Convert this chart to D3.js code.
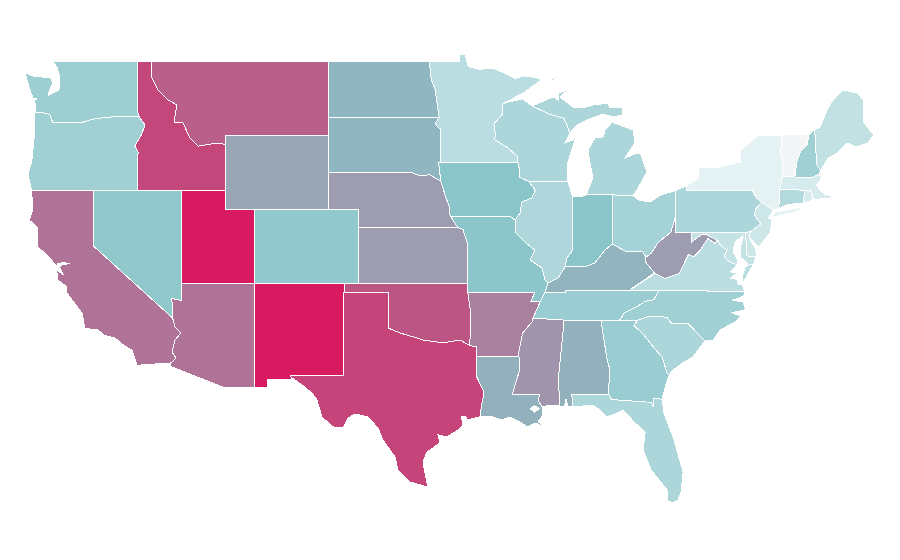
<!DOCTYPE html>
<html>
<head>
<meta charset="utf-8">
<script src="https://cdn.jsdelivr.net/npm/d3@7"></script>
<style>
  html, body { margin: 0; background: #fff; }
  path.state { stroke: #fff; stroke-width: 1px; fill-rule: evenodd; shape-rendering: crispEdges; }
</style>
</head>
<body>
<svg id="map" width="900" height="560"></svg>
<script>
// values, arbitrary 0-100 units
var stateNames = ["AL","AR","AZ","CA","CO","CT","DE","FL","GA","IA","ID","IL","IN","KS","KY","LA","MA","MD","ME","MI","MN","MO","MS","MT","NC","ND","NE","NH","NJ","NM","NV","NY","OH","OK","OR","PA","RI","SC","SD","TN","TX","UT","VA","VT","WA","WI","WV","WY"];
var stateValues = [56,70,74,74,46,30,17,33,42,50,87,32,50,62,55,56,13,21,23,33,27,49,64,80,39,54,62,39,17,100,47,6,37,83,39,33,13,33,54,42,88,100,27,0,41,33,62,59];
var colorStops = [0, 4, 50, 100];
var colorRange = ["#f4f5f6", "#e8f4f6", "#8ac5c9", "#d81b60"];

// shared borders as [lon, lat], so neighbours line up
var colRiverWaOr = [[-123.97,46.2],[-123.4,46.2],[-122.95,46.1],[-122.75,45.65],[-121.9,45.68],[-120.9,45.65],[-120,45.86],[-119,45.97],[-116.92,46.0]];
var waIdLine = [[-117.03,49],[-117.04,46.42],[-116.92,46.0]];
var orIdLine = [[-116.92,46.0],[-116.5,45.55],[-116.75,45.0],[-117.2,44.4],[-117.05,44.2],[-116.95,44.05],[-117.03,43.8],[-117.03,42]];
var idMtLine = [[-116.05,49],[-116.03,48.08],[-115.63,47.43],[-114.95,46.9],[-114.34,46.62],[-114.54,45.7],[-113.93,45.65],[-113.46,44.84],[-112.9,44.4],[-111.56,44.57],[-111.05,44.48]];
var colRiverCaAz = [[-114.63,35.1],[-114.47,34.62],[-114.07,34.3],[-114.47,33.92],[-114.68,33.27],[-114.4,32.95],[-114.75,32.68]];
var nvAzLine = [[-114.05,37],[-114.05,36.05],[-114.3,36.1],[-114.68,36.15],[-114.65,35.3],[-114.63,35.1]];
var redRiver = [[-100,34.56],[-99.22,34.3],[-98.07,34.03],[-97.66,33.92],[-96.3,33.76],[-95.15,33.92],[-94.48,33.62]];
var sabine = [[-94.04,31.97],[-93.52,31.1],[-93.7,30.3],[-93.8,29.76]];
var missouriNeSd = [[-98.5,43],[-97.9,42.8],[-97.2,42.85],[-96.45,42.5]];
var missouriNeIa = [[-96.45,42.5],[-96.1,41.6],[-95.9,41.2],[-95.85,40.7],[-95.77,40.58]];
var redRiverNorth = [[-97.23,49],[-97.1,48],[-96.85,47.5],[-96.56,45.94]];
var mnSdLine = [[-96.56,45.94],[-96.85,45.6],[-96.45,45.3],[-96.45,43.5]];
var mnWiLine = [[-92.1,46.75],[-92.3,46.65],[-92.3,46.1],[-92.85,45.6],[-92.75,45.0],[-92.8,44.75],[-91.9,44.3],[-91.25,43.85],[-91.22,43.5]];
var iaWiIl = [[-91.22,43.5],[-91.08,43.0],[-91.1,42.7],[-90.5,42.5]];
var iaIlLine = [[-90.5,42.5],[-90.05,42.03],[-90.27,41.6],[-90.95,41.38],[-91.08,40.78],[-91.42,40.4]];
var ilMoLine = [[-91.42,40.4],[-91.42,39.76],[-90.74,39.2],[-90.07,38.78],[-90.4,38.24],[-89.59,37.81],[-89.39,37.16],[-89.18,37.0]];
var wabash = [[-87.53,39.35],[-87.5,38.78],[-87.9,38.35],[-88.03,37.87]];
var ilKyLine = [[-88.03,37.87],[-88.5,37.27],[-89.18,37.0]];
var inKyLine = [[-88.03,37.87],[-87.49,37.87],[-86.68,37.87],[-86.0,38.08],[-85.32,38.79],[-84.82,39.1]];
var ohKyLine = [[-84.82,39.1],[-83.83,38.68],[-82.74,38.68],[-82.55,38.4]];
var ohWvLine = [[-82.55,38.4],[-82.2,38.6],[-81.7,39.2],[-80.85,39.75],[-80.52,40.64]];
var kyWvLine = [[-82.55,38.4],[-82.6,38.17],[-81.97,37.54]];
var kyVaLine = [[-81.97,37.54],[-82.07,37.43],[-83.68,36.6]];
var moKyTn = [[-89.18,37.0],[-89.38,36.51]];
var moArLine = [[-89.38,36.51],[-89.72,35.97],[-90.35,36.0],[-90.07,36.5]];
var arTnMs = [[-89.72,35.97],[-90.2,35.1]];
var arMsLine = [[-90.2,35.1],[-90.27,34.9],[-90.9,34.3],[-91.2,33.1],[-91.15,33.0]];
var laMsLine = [[-91.15,33.0],[-91.1,32.3],[-91.6,31.0],[-89.73,31.0],[-89.85,30.65],[-89.59,30.3]];
var msAlLine = [[-88.17,35],[-88.1,34.9],[-88.47,31.9],[-88.4,30.35]];
var alGaLine = [[-85.6,35],[-85.18,32.87],[-84.98,32.3],[-85.1,31.0]];
var gaFlLine = [[-85.1,31.0],[-84.86,30.7],[-82.2,30.55],[-82.05,30.36],[-82.0,30.75],[-81.45,30.72]];
var gaScLine = [[-83.1,35],[-83.35,34.7],[-82.75,34.25],[-81.9,33.4],[-81.45,33.0],[-81.1,32.1],[-80.95,32.05]];
var ncScLine = [[-83.1,35],[-82.3,35.2],[-81.05,35.15],[-81.05,35.05],[-80.8,34.82],[-79.67,34.8],[-78.55,33.86]];
var ncTnLine = [[-84.32,35],[-84.0,35.4],[-83.1,35.75],[-82.6,36.0],[-82.0,36.1],[-81.68,36.59]];
var wvVaLine = [[-81.97,37.54],[-81.25,37.25],[-80.3,37.5],[-79.65,38.55],[-79.3,38.42],[-78.87,38.77],[-78.35,39.4],[-77.83,39.13],[-77.72,39.32]];
var mdVaLine = [[-77.72,39.32],[-77.45,39.0],[-77.05,38.8],[-77.25,38.4],[-76.9,38.15],[-76.35,37.97]];
var mdWvLine = [[-79.48,39.72],[-79.48,39.2],[-78.8,39.6],[-78.4,39.6],[-77.72,39.32]];
var delaware = [[-75.35,42],[-75.05,41.6],[-74.7,41.36]];
var paNjLine = [[-74.7,41.36],[-75.1,41.0],[-75.2,40.7],[-74.75,40.2],[-75.4,39.8]];
var deNjLine = [[-75.4,39.8],[-75.55,39.5]];
var nyVtLine = [[-73.35,45],[-73.4,44],[-73.25,43.55],[-73.28,42.75]];
var vtNhLine = [[-71.5,45.01],[-71.6,44.5],[-72.05,44.1],[-72.3,43.6],[-72.45,42.73]];
var nhMeLine = [[-71.1,45.3],[-70.97,43.4],[-70.7,43.07]];
var upWiLine = [[-90.27,46.57],[-89.1,46.13],[-88.1,45.9],[-87.8,45.35],[-87.7,45.1]];

var waCoast = [[-122.75,49],[-122.45,48.62],[-122.27,48.08],[-122.34,47.43],[-123.05,47.16],[-123.0,47.4],[-122.75,47.8],[-122.95,48.13],[-123.97,48.14],[-124.65,48.38],[-124.3,47.43],[-124.1,47.0],[-123.85,46.95],[-124.05,46.85],[-123.9,46.6],[-123.97,46.2]];
var orCoast = [[-123.97,46.2],[-123.97,45.27],[-124.17,43.65],[-124.44,42.84],[-124.3,42.4],[-124.2,42]];
var caCoast = [[-114.75,32.68],[-117.05,32.55],[-117.39,33.38],[-117.9,33.6],[-118.54,34.03],[-119.2,34.15],[-119.7,34.46],[-120.58,34.55],[-120.78,35.38],[-121.8,36.46],[-121.8,36.79],[-122.4,37.16],[-122.5,37.7],[-122.05,37.45],[-122.3,37.85],[-122.1,37.98],[-121.6,38.05],[-122.0,38.1],[-122.47,38.05],[-122.47,37.87],[-122.95,38.35],[-123.76,38.95],[-123.76,39.97],[-124.35,40.4],[-124.1,41.0],[-124.2,42]];
var txCoast = [[-93.8,29.76],[-94.7,29.6],[-94.75,29.76],[-95.05,29.76],[-94.95,29.33],[-95.3,29.05],[-96.03,28.68],[-96.64,28.79],[-96.5,28.35],[-97.39,27.87],[-97.66,27.33],[-97.52,26.73],[-97.32,25.97],[-98.54,26.25],[-99.35,26.9],[-99.56,27.6],[-100.37,28.51],[-100.71,29.16],[-101.39,29.76],[-102.27,29.92],[-102.74,29.7],[-103.08,29.16],[-103.76,29.22],[-104.51,29.76],[-104.85,30.68],[-105.19,31.06],[-105.86,31.49],[-106.62,31.92],[-106.62,32]];
var laCoast = [[-89.59,30.3],[-89.52,29.87],[-89.86,29.49],[-89.18,29.16],[-90.07,29.43],[-90.6,29.22],[-91.08,29.49],[-91.76,29.76],[-92.3,29.6],[-93.12,29.81],[-93.8,29.76]];
var flCoast = [[-81.45,30.72],[-81.3,29.9],[-80.7,28.68],[-80.02,26.78],[-80.15,25.75],[-80.36,25.27],[-80.7,25.13],[-81.1,25.2],[-81.1,25.8],[-81.79,26.5],[-82.2,26.9],[-82.74,27.97],[-82.6,28.95],[-83.3,29.45],[-84.1,30.13],[-84.4,30.0],[-85.18,29.76],[-85.6,30.1],[-86.13,30.4],[-87.5,30.3]];
var mnShore = [[-95.15,49],[-95.15,49.38],[-94.8,49.35],[-94.6,48.7],[-93.8,48.55],[-92.95,48.62],[-92.0,48.3],[-91.4,48.05],[-90.8,48.2],[-90.0,48.1],[-89.6,48.0],[-90.8,47.3],[-92.1,46.75]];
var wiShore = [[-87.7,45.1],[-88.04,44.57],[-87.5,44.73],[-87.2,45.2],[-87.5,44.35],[-87.85,43.5],[-87.85,42.5]];
var miUpShore = [[-87.7,45.1],[-87.22,45.54],[-86.54,45.81],[-85.45,46.13],[-84.77,45.97],[-84.1,46.08],[-84.17,46.46],[-84.98,46.46],[-85.12,46.73],[-86.13,46.62],[-86.81,46.46],[-87.49,46.51],[-88.37,47.05],[-87.82,47.43],[-88.5,47.27],[-88.5,46.9],[-88.85,47.05]];
var miLower = [[-86.6,41.76],[-84.8,41.76],[-83.42,41.73],[-83.15,42.03],[-82.47,43.0],[-82.9,43.95],[-83.15,44.03],[-83.96,43.76],[-83.28,44.57],[-83.42,45.27],[-84.84,45.7],[-85.32,45.27],[-85.45,44.9],[-86.0,44.84],[-86.47,44.2],[-86.34,43.49],[-86.13,42.68]];
var ohShore = [[-83.42,41.73],[-83.07,41.49],[-82.26,41.38],[-81.58,41.75],[-80.52,42]];
var nyLakes = [[-79.76,42.27],[-78.98,42.67],[-78.98,43.27],[-77.6,43.27],[-76.15,43.54],[-76.15,44.19],[-74.95,44.95],[-73.35,45]];
var nyEast = [[-73.28,42.75],[-73.5,42.05],[-73.5,41.3],[-73.65,41.0],[-73.9,40.95],[-74.7,41.36]];
var longIsland = [[-74.0,40.6],[-73.75,40.85],[-72.7,40.98],[-71.95,41.1],[-71.9,41.05],[-72.5,40.82],[-73.9,40.57]];
var meCoast = [[-71.1,45.3],[-70.75,45.4],[-70.2,46.46],[-69.85,46.89],[-69.18,47.43],[-68.23,47.27],[-67.8,46.89],[-67.8,45.7],[-67.1,45.0],[-67.5,44.57],[-68.33,44.35],[-68.86,44.57],[-69.55,44.03],[-70.2,43.76],[-70.7,43.07]];
var maCoast = [[-70.7,43.07],[-70.82,42.87],[-70.6,42.65],[-71.0,42.3],[-70.65,41.95],[-70.45,41.8],[-69.98,41.72],[-70.0,41.6],[-70.65,41.55],[-71.15,41.5]];
var njCoast = [[-73.9,40.95],[-74.25,40.5],[-74.0,40.45],[-74.1,39.75],[-74.9,38.93],[-75.55,39.5]];
var deCoast = [[-75.55,39.5],[-75.1,38.8],[-75.05,38.45]];
var chesapeakeMd = [[-75.05,38.45],[-75.25,38.03],[-75.65,37.95],[-75.68,38.07],[-76.15,38.4],[-76.15,38.89],[-75.95,39.49],[-76.0,39.55],[-76.5,39.2],[-76.64,38.67],[-76.3,38.24],[-76.35,37.97]];
var vaCoast = [[-76.35,37.97],[-76.85,37.6],[-76.35,37.55],[-76.8,37.25],[-76.35,37.2],[-76.35,36.95],[-76.0,36.9],[-75.85,36.55]];
var vaShore = [[-75.65,37.95],[-75.25,38.03],[-75.95,37.0],[-76.03,37.27],[-75.85,37.8]];
var ncCoast = [[-75.85,36.55],[-75.9,36.3],[-76.7,36.05],[-75.95,36.0],[-75.8,35.55],[-76.7,35.4],[-76.1,35.2],[-76.5,34.9],[-77.5,34.46],[-78.0,33.9],[-78.55,33.86]];
var scCoast = [[-78.55,33.86],[-79.35,33.0],[-80.02,32.7],[-80.7,32.3],[-80.95,32.05]];
var gaCoast = [[-80.95,32.05],[-81.2,31.5],[-81.45,30.72]];
var isleRoyale = [[-89.15,47.9],[-88.7,48.12],[-88.65,48.05],[-89.05,47.87]];
var pontchartrain = [[-90.4,30.2],[-90.1,30.38],[-89.75,30.2],[-90.1,30.03]];

function rev(a) { return a.slice().reverse(); }
function ring() { return [].concat.apply([], arguments); }

var shapes = {
  WA: [ring([[-117.03,49]], waCoast, colRiverWaOr, rev(waIdLine))],
  OR: [ring(orCoast, [[-120,42]], rev(orIdLine), rev(colRiverWaOr))],
  ID: [ring(waIdLine, orIdLine, [[-114.05,42],[-111.05,42]], rev(idMtLine))],
  MT: [ring(idMtLine, [[-111.05,45],[-104.05,45],[-104.05,49]])],
  WY: [[[-111.05,45],[-104.05,45],[-104.05,41],[-111.05,41]]],
  UT: [[[-114.05,42],[-111.05,42],[-111.05,41],[-109.05,41],[-109.05,37],[-114.05,37]]],
  CO: [[[-109.05,41],[-102.05,41],[-102.05,37],[-109.05,37]]],
  NV: [ring([[-120,42],[-114.05,42]], nvAzLine, [[-120,39]])],
  AZ: [ring([[-114.05,37],[-109.05,37],[-109.05,31.33],[-111.07,31.33],[-114.81,32.5]], rev(colRiverCaAz), rev(nvAzLine))],
  CA: [ring([[-124.2,42],[-120,42],[-120,39]], colRiverCaAz, caCoast)],
  NM: [[[-109.05,37],[-103,37],[-103.04,32],[-106.62,32],[-106.53,31.78],[-108.2,31.78],[-108.2,31.33],[-109.05,31.33]]],
  TX: [ring([[-103.04,32],[-103.04,36.5],[-100,36.5]], redRiver, [[-94.04,33.55]], sabine, txCoast)],
  OK: [ring([[-103,37],[-94.62,37],[-94.62,36.5],[-94.43,35.4]], rev(redRiver), [[-100,36.5],[-103,36.5]])],
  KS: [[[-102.05,40],[-95.3,40],[-94.95,39.9],[-94.62,39.1],[-94.62,37],[-102.05,37]]],
  NE: [ring([[-104.05,43]], missouriNeSd, missouriNeIa, [[-95.3,40],[-102.05,40],[-102.05,41],[-104.05,41]])],
  SD: [ring([[-104.05,45.94]], mnSdLine, [[-96.6,43.5]], rev(missouriNeSd), [[-104.05,43]])],
  ND: [ring([[-104.05,49]], redRiverNorth, [[-104.05,45.94]])],
  MN: [ring(redRiverNorth.slice(0,1), mnShore, mnWiLine, rev(mnSdLine), rev(redRiverNorth))],
  IA: [ring(mnSdLine.slice(-1), iaWiIl, iaIlLine, [[-91.75,40.61]], rev(missouriNeIa), [[-96.6,43.5]])],
  MO: [ring([[-95.77,40.58],[-91.75,40.61]], ilMoLine, moKyTn, moArLine, [[-94.62,36.5],[-94.62,37],[-94.62,39.1],[-94.95,39.9],[-95.3,40]])],
  AR: [ring([[-94.62,36.5],[-90.07,36.5],[-90.35,36.0],[-89.72,35.97]], arTnMs.slice(1), arMsLine, [[-94.04,33.02],[-94.04,33.55],[-94.48,33.62],[-94.43,35.4]])],
  LA: [ring([[-94.04,33.02]], laMsLine, laCoast, rev(sabine)), pontchartrain],
  WI: [ring(mnWiLine.slice(0,1), [[-90.9,46.95]], upWiLine, wiShore.slice(1), [[-90.5,42.5]], rev(iaWiIl), rev(mnWiLine))],
  IL: [ring([[-90.5,42.5],[-87.85,42.5],[-87.5,41.65]], wabash, ilKyLine, rev(ilMoLine), rev(iaIlLine))],
  IN: [ring([[-87.5,41.65],[-87.0,41.65],[-86.6,41.76],[-84.8,41.76]], rev(inKyLine), rev(wabash))],
  MI: [miLower, ring(upWiLine, miUpShore.slice(1)), isleRoyale],
  OH: [ring([[-84.8,41.76]], ohShore, [[-80.52,40.64]], rev(ohWvLine), rev(ohKyLine))],
  KY: [ring(moKyTn.slice(0,1), rev(ilKyLine), inKyLine, ohKyLine, kyWvLine, kyVaLine, [[-88.03,36.62],[-88.03,36.48]], moKyTn.slice(1))],
  TN: [ring([[-89.38,36.51],[-88.03,36.48],[-88.03,36.62],[-83.68,36.6],[-81.68,36.59]], rev(ncTnLine), [[-88.17,35]], rev(arTnMs))],
  MS: [ring(arMsLine, laMsLine.slice(1), [[-89.0,30.4]], rev(msAlLine))],
  AL: [ring(msAlLine.slice(0,1), alGaLine, [[-87.57,31.0],[-87.5,30.3],[-87.85,30.3],[-87.95,30.75],[-88.05,30.35]], msAlLine.slice(-1), rev(msAlLine.slice(1,3)))],
  GA: [ring([[-85.6,35]], gaScLine, gaCoast, rev(gaFlLine), rev(alGaLine))],
  FL: [ring([[-87.57,31.0]], gaFlLine, flCoast)],
  SC: [ring(ncScLine, scCoast, rev(gaScLine))],
  NC: [ring(ncTnLine, ncCoast, rev(ncScLine))],
  VA: [ring([[-83.68,36.6],[-81.68,36.59]], rev(vaCoast), rev(mdVaLine), rev(wvVaLine), rev(kyVaLine)), vaShore],
  WV: [ring(ohWvLine.slice(-1), [[-80.52,39.72]], mdWvLine, rev(wvVaLine), rev(kyWvLine), ohWvLine)],
  MD: [ring(mdWvLine.slice(0,1), [[-75.79,39.72],[-75.7,38.46]], chesapeakeMd, rev(mdVaLine), rev(mdWvLine))],
  DE: [ring([[-75.79,39.72]], deNjLine, deCoast, [[-75.7,38.46]])],
  PA: [ring([[-80.52,42],[-79.76,42.27],[-79.76,42]], delaware, paNjLine, [[-75.79,39.72],[-80.52,39.72]])],
  NJ: [ring([[-74.7,41.36]], njCoast, rev(deNjLine), rev(paNjLine))],
  NY: [ring(nyLakes, nyVtLine.slice(1), nyEast, rev(delaware), [[-79.76,42]]), longIsland],
  VT: [ring([[-73.35,45]], vtNhLine, rev(nyVtLine))],
  NH: [ring(vtNhLine.slice(0,1), nhMeLine, [[-70.82,42.87],[-71.3,42.7]], rev(vtNhLine))],
  ME: [ring(meCoast, rev(nhMeLine))],
  MA: [ring([[-73.5,42.05],[-73.28,42.75],[-72.45,42.73],[-71.3,42.7]], maCoast.slice(1), [[-71.38,42.02],[-71.8,42.02]])],
  CT: [[[-73.5,42.05],[-71.8,42.02],[-71.85,41.32],[-72.9,41.25],[-73.65,41.0],[-73.5,41.3]]],
  RI: [[[-71.8,42.02],[-71.38,42.02],[-71.2,41.5],[-71.85,41.32]]]
};

var x = d3.scaleLinear().domain([-125, -67]).range([19.7, 875.2]);
var y = d3.scaleLinear().domain([49, 25]).range([61, 505]);
var color = d3.scaleLinear().domain(colorStops).range(colorRange);

var line = d3.line()
    .x(function(d) { return x(d[0]); })
    .y(function(d) { return y(d[1]); })
    .curve(d3.curveLinearClosed);

d3.select("#map").selectAll("path.state")
    .data(stateNames)
  .enter().append("path")
    .attr("class", "state")
    .attr("fill", function(d, i) { return color(stateValues[i]); })
    .attr("d", function(d) { return shapes[d].map(line).join(""); });
</script>
</body>
</html>
